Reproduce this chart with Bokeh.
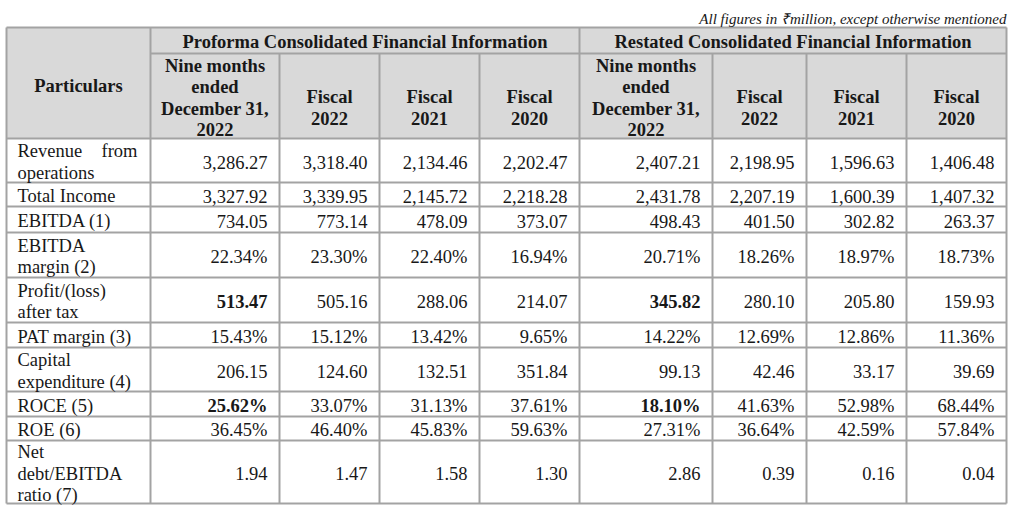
from bokeh.plotting import figure
from bokeh.models import Range1d, ColumnDataSource
from bokeh.core.properties import value
from bokeh.embed import file_html
from bokeh.resources import INLINE

# ---------------- data ----------------
note = "All figures in \u20b9million, except otherwise mentioned"
corner_label = "Particulars"
group_titles = ["Proforma Consolidated Financial Information",
                "Restated Consolidated Financial Information"]
period_labels = [["Nine months", "ended", "December 31,", "2022"],
                 ["Fiscal", "2022"], ["Fiscal", "2021"], ["Fiscal", "2020"]]
particulars = [["Revenue from", "operations"], ["Total Income"], ["EBITDA (1)"],
               ["EBITDA", "margin (2)"], ["Profit/(loss)", "after tax"],
               ["PAT margin (3)"], ["Capital", "expenditure (4)"], ["ROCE (5)"],
               ["ROE (6)"], ["Net", "debt/EBITDA", "ratio (7)"]]
row_kind = ["amt", "amt", "amt", "pct", "amt", "pct", "amt", "pct", "pct", "amt"]

proforma_9m_dec22 = [3286.27, 3327.92, 734.05, 22.34, 513.47, 15.43, 206.15, 25.62, 36.45, 1.94]
proforma_fy2022 = [3318.40, 3339.95, 773.14, 23.30, 505.16, 15.12, 124.60, 33.07, 46.40, 1.47]
proforma_fy2021 = [2134.46, 2145.72, 478.09, 22.40, 288.06, 13.42, 132.51, 31.13, 45.83, 1.58]
proforma_fy2020 = [2202.47, 2218.28, 373.07, 16.94, 214.07, 9.65, 351.84, 37.61, 59.63, 1.30]
restated_9m_dec22 = [2407.21, 2431.78, 498.43, 20.71, 345.82, 14.22, 99.13, 18.10, 27.31, 2.86]
restated_fy2022 = [2198.95, 2207.19, 401.50, 18.26, 280.10, 12.69, 42.46, 41.63, 36.64, 0.39]
restated_fy2021 = [1596.63, 1600.39, 302.82, 18.97, 205.80, 12.86, 33.17, 52.98, 42.59, 0.16]
restated_fy2020 = [1406.48, 1407.32, 263.37, 18.73, 159.93, 11.36, 39.69, 68.44, 57.84, 0.04]
value_columns = [proforma_9m_dec22, proforma_fy2022, proforma_fy2021, proforma_fy2020,
                 restated_9m_dec22, restated_fy2022, restated_fy2021, restated_fy2020]
bold_cells = [(4, 0), (4, 4), (7, 0), (7, 4)]

# ---------------- layout ----------------
FONT = value("Liberation Serif")
FS = "18.5px"
INK = "#181818"
GRID = "#a3a3a3"
HEAD_BG = "#d9d9d9"

col_edges = [6, 150, 279, 379, 479, 579, 712, 806, 906, 1006]
top, group_bottom, head_bottom = 27, 53, 138
row_edges = [138, 182, 206, 232, 277, 322, 347, 391, 416, 440, 503]
LINE = 21.2

p = figure(width=1014, height=510, x_range=Range1d(0, 1014), y_range=Range1d(510, 0),
           output_backend="svg", toolbar_location=None, min_border=0,
           x_axis_location=None, y_axis_location=None, outline_line_color=None)
p.xgrid.visible = False
p.ygrid.visible = False
p.background_fill_color = "white"
p.border_fill_color = "white"

# header background
p.quad(left=[col_edges[0]], right=[col_edges[-1]], top=[top], bottom=[head_bottom],
       fill_color=HEAD_BG, line_color=None)

# grid lines
x0, y0, x1, y1 = [], [], [], []
for y in [top, head_bottom] + row_edges[1:]:
    x0.append(col_edges[0]); x1.append(col_edges[-1]); y0.append(y); y1.append(y)
x0.append(col_edges[1]); x1.append(col_edges[-1]); y0.append(group_bottom); y1.append(group_bottom)
for i, x in enumerate(col_edges):
    ys = top if i in (0, 1, 5, 9) else group_bottom
    x0.append(x); x1.append(x); y0.append(ys); y1.append(row_edges[-1])
p.segment(x0=x0, y0=y0, x1=x1, y1=y1, line_color=GRID, line_width=2)

def add_text(xs, ys, texts, align, style="normal", baseline="middle", size=FS):
    src = ColumnDataSource(dict(x=xs, y=ys, t=texts))
    p.text(x="x", y="y", text="t", source=src, text_font=FONT, text_font_size=value(size),
           text_font_style=style, text_align=align, text_baseline=baseline, text_color=INK)

# note
add_text([1006], [18], [note], "right", style="italic", baseline="alphabetic", size="15px")

# header texts
hx, hy, ht = [], [], []
hx.append((col_edges[0] + col_edges[1]) / 2); hy.append(85); ht.append(corner_label)
for g, title in enumerate(group_titles):
    a, b = col_edges[1 + 4 * g], col_edges[5 + 4 * g]
    hx.append((a + b) / 2); hy.append(41); ht.append(title)
    for k, lines in enumerate(period_labels):
        c = 1 + 4 * g + k
        xc = (col_edges[c] + col_edges[c + 1]) / 2
        yc = 97.5 if len(lines) == 4 else 107.5
        for i, ln in enumerate(lines):
            hx.append(xc); hy.append(yc + (i - (len(lines) - 1) / 2) * LINE); ht.append(ln)
add_text(hx, hy, ht, "center", style="bold")

# row labels
lx, ly, lt = [], [], []
rx, ry, rt = [], [], []
for r, lines in enumerate(particulars):
    yc = (row_edges[r] + row_edges[r + 1]) / 2 + 1.5
    for i, ln in enumerate(lines):
        yy = yc + (i - (len(lines) - 1) / 2) * LINE
        if r == 0 and i == 0:
            w = ln.split(" ")
            lx.append(col_edges[0] + 11); ly.append(yy); lt.append(w[0])
            rx.append(col_edges[1] - 13); ry.append(yy); rt.append(w[1])
        else:
            lx.append(col_edges[0] + 11); ly.append(yy); lt.append(ln)
add_text(lx, ly, lt, "left")
add_text(rx, ry, rt, "right")

# values
nx, ny, nt = [], [], []
bx, by, bt = [], [], []
for c, col in enumerate(value_columns):
    xr = col_edges[c + 2] - 12
    for r, v in enumerate(col):
        s = f"{v:,.2f}" + ("%" if row_kind[r] == "pct" else "")
        yy = (row_edges[r] + row_edges[r + 1]) / 2 + 1.5
        if (r, c) in bold_cells:
            bx.append(xr); by.append(yy); bt.append(s)
        else:
            nx.append(xr); ny.append(yy); nt.append(s)
add_text(nx, ny, nt, "right")
add_text(bx, by, bt, "right", style="bold")

open("out.html", "w").write(file_html(p, INLINE))
